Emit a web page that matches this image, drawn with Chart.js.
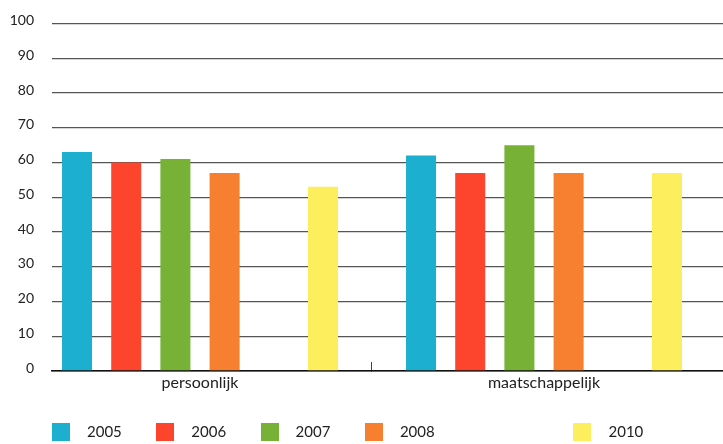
<!DOCTYPE html>
<html>
<head>
<meta charset="utf-8">
<script src="https://cdn.jsdelivr.net/npm/chart.js@4/dist/chart.umd.min.js"></script>
<style>
html,body{margin:0;padding:0;background:#fff;}
canvas{display:block;}
</style>
</head>
<body>
<canvas id="c" width="723" height="444"></canvas>
<script>
const categories = ['persoonlijk', 'maatschappelijk'];
const years = ['2005', '2006', '2007', '2008', '2009', '2010'];
const v2005 = [63, 62];
const v2006 = [60, 57];
const v2007 = [61, 65];
const v2008 = [57, 57];
const v2009 = [null, null];
const v2010 = [53, 57];
const yTicks = [0, 10, 20, 30, 40, 50, 60, 70, 80, 90, 100];
const colors = ['#1DAFD0', '#FD452E', '#77B236', '#F77F30', '#FFFFFF', '#FCEE5C'];
const series = [v2005, v2006, v2007, v2008, v2009, v2010];

function swatch(color, blank) {
  const c = document.createElement('canvas');
  c.width = 18; c.height = 18;
  if (!blank) { const g = c.getContext('2d'); g.fillStyle = color; g.fillRect(0, 0, 18, 18); }
  return c;
}
const swatches = years.map((y, i) => swatch(colors[i], series[i].every(v => v === null)));

const datasets = years.map((y, i) => ({
  label: y,
  data: series[i].map((v, k) => ({ x: k, y: v })),
  backgroundColor: colors[i],
  borderWidth: 0,
  barPercentage: 0.61,
  categoryPercentage: 1.716
}));

const PAD_LEFT = -37.2;

new Chart(document.getElementById('c'), {
  type: 'bar',
  data: { datasets },
  options: {
    responsive: false,
    animation: false,
    layout: { padding: { top: 23.5, left: PAD_LEFT, right: 0, bottom: -5.5 } },
    plugins: {
      tooltip: { enabled: false },
      legend: {
        position: 'bottom',
        align: 'center',
        labels: {
          usePointStyle: true,
          pointStyleWidth: 37,
          padding: 25,
          color: '#222',
          font: { family: 'Lato', size: 15 },
          generateLabels: (chart) => chart.data.datasets.map((ds, i) => ({
            text: ds.label,
            fillStyle: ds.backgroundColor,
            strokeStyle: 'transparent',
            lineWidth: 0,
            pointStyle: swatches[i],
            fontColor: series[i].every(v => v === null) ? 'transparent' : '#222',
            hidden: false,
            datasetIndex: i
          }))
        }
      }
    },
    scales: {
      x: {
        type: 'linear',
        offset: false,
        min: -148 / 344,
        max: 523 / 344,
        afterBuildTicks: (s) => { s.ticks = [{ value: 0 }, { value: 0.5 }, { value: 1 }]; },
        afterFit: (s) => { s.height = 28.5; },
        ticks: {
          autoSkip: false,
          maxRotation: 0,
          padding: 11,
          color: '#222',
          font: { family: 'Lato', size: 16 },
          callback: (v) => v === 0 ? categories[0] : (v === 1 ? categories[1] : '')
        },
        grid: {
          offset: false,
          drawOnChartArea: false,
          drawTicks: true,
          tickLength: -9,
          lineWidth: 1,
          color: (c) => (c.tick && c.tick.value === 0.5) ? '#444' : 'rgba(0,0,0,0)'
        },
        border: { display: true, color: '#111', width: 1.5 }
      },
      y: {
        min: 0,
        max: 100,
        afterBuildTicks: (s) => { s.ticks = yTicks.map(v => ({ value: v })); },
        afterFit: (s) => { s.width = 52 - PAD_LEFT; },
        ticks: {
          padding: 0,
          labelOffset: -3,
          color: '#222',
          font: { family: 'Lato', size: 14 }
        },
        grid: {
          drawTicks: true,
          tickLength: 18,
          tickColor: 'rgba(0,0,0,0)',
          lineWidth: 1.3,
          color: (c) => (c.tick && c.tick.value === 0) ? '#111' : '#555'
        },
        border: { display: false }
      }
    }
  }
});
</script>
</body>
</html>
